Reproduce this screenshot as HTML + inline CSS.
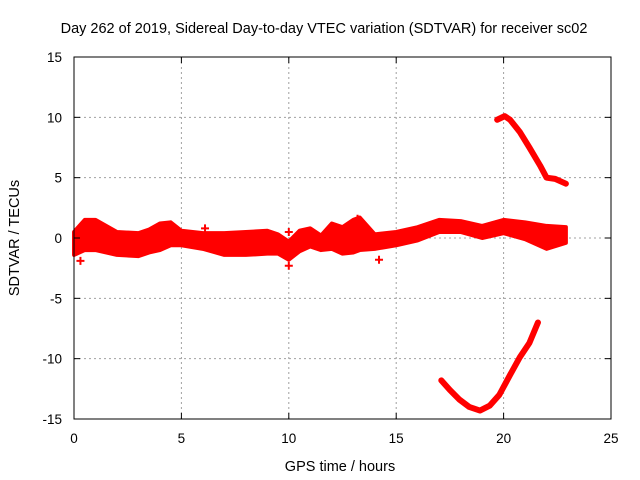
<!DOCTYPE html>
<html><head><meta charset="utf-8"><style>
body{margin:0;background:#fff}
svg{display:block;font-family:"Liberation Sans",sans-serif}
</style></head><body>
<svg id="c" width="640" height="480">
<text x="324" y="33" text-anchor="middle" font-size="14.5">Day 262 of 2019, Sidereal Day-to-day VTEC variation (SDTVAR) for receiver sc02</text>
<text x="340" y="471" text-anchor="middle" font-size="14.5">GPS time / hours</text>
<text x="19" y="238" text-anchor="middle" font-size="14.5" transform="rotate(-90 19 238)">SDTVAR / TECUs</text>
<g id="grid"></g><g id="marks"></g><g id="axes"></g>
</svg>
<script>
const xTicks=[0,5,10,15,20,25];
const yTicks=[-15,-10,-5,0,5,10,15];
const bandHours=[0,0.5,1,2,3,3.5,4,4.5,5,6,7,8,9,9.5,10,10.5,11,11.5,12,12.5,13,13.3,14,15,16,17,18,19,20,21,22,22.9];
const bandUpper=[0.5,1.5,1.5,0.5,0.4,0.7,1.2,1.3,0.6,0.4,0.4,0.5,0.6,0.3,-0.3,0.6,0.8,0.2,1.2,0.9,1.5,1.7,0.3,0.5,0.9,1.5,1.4,1.0,1.5,1.3,1.0,0.9];
const bandLower=[-1.4,-1,-1,-1.4,-1.5,-1.2,-1,-0.6,-0.6,-0.9,-1.4,-1.4,-1.3,-1.3,-1.8,-1.1,-0.7,-1,-0.9,-1.3,-1.2,-1.0,-0.9,-0.6,-0.2,0.5,0.5,0,0.4,-0.1,-0.9,-0.4];
const upperHours=[19.7,20.05,20.3,20.75,21.2,21.7,22.0,22.4,22.9];
const upperVals=[9.8,10.1,9.8,8.8,7.5,6.0,5.0,4.9,4.5];
const lowerHours=[17.1,17.5,17.95,18.4,18.9,19.35,19.8,20.3,20.75,21.2,21.6];
const lowerVals=[-11.8,-12.6,-13.4,-14.0,-14.3,-13.9,-13.0,-11.35,-9.9,-8.7,-7.0];
const outHours=[0.3,0.3,10,10,14.2,6.1,13.2];
const outVals=[-1.9,0.2,0.5,-2.3,-1.8,0.8,1.6];
const X0=74,X1=611,Y0=419,Y1=57;
const sx=h=>X0+(h-0)/25*(X1-X0);
const sy=v=>Y0-(v+15)/30*(Y0-Y1);
const NS="http://www.w3.org/2000/svg";
function mk(t,p,parent){const e=document.createElementNS(NS,t);for(const k in p)e.setAttribute(k,p[k]);document.getElementById(parent).appendChild(e);return e;}
xTicks.forEach(t=>{
 const x=sx(t);
 if(t>0&&t<25){const g=mk('line',{x1:x,x2:x,y1:Y1,y2:Y0,stroke:'#a0a0a0','stroke-dasharray':'2,3'},'grid');
 
 }
 mk('line',{x1:x,x2:x,y1:Y0,y2:Y0-6,stroke:'#000'},'axes');
 mk('line',{x1:x,x2:x,y1:Y1,y2:Y1+6,stroke:'#000'},'axes');
 const l=mk('text',{x:x,y:Y0+24,'text-anchor':'middle','font-size':13.5},'axes');l.textContent=t;
 
 
});
yTicks.forEach(t=>{
 const y=sy(t);
 if(t>-15&&t<15){const g=mk('line',{x1:X0,x2:X1,y1:y,y2:y,stroke:'#a0a0a0','stroke-dasharray':'2,3'},'grid');
 
 }
 mk('line',{x1:X0,x2:X0+6,y1:y,y2:y,stroke:'#000'},'axes');
 mk('line',{x1:X1,x2:X1-6,y1:y,y2:y,stroke:'#000'},'axes');
 const l=mk('text',{x:X0-12,y:y+5,'text-anchor':'end','font-size':13.5},'axes');l.textContent=t;
 
 
});
const fr=mk('rect',{x:X0,y:Y1,width:X1-X0,height:Y0-Y1,fill:'none',stroke:'#000'},'axes');


let pts=bandHours.map((h,i)=>sx(h)+','+sy(bandUpper[i]));
pts=pts.concat(bandHours.map((h,i)=>sx(h)+','+sy(bandLower[i])).reverse());
const band=mk('polygon',{points:pts.join(' '),fill:'#f00',stroke:'#f00','stroke-width':4,'stroke-linejoin':'round'},'marks');


function curve(hs,vs,name){
 const p=mk('polyline',{points:hs.map((h,i)=>sx(h)+','+sy(vs[i])).join(' '),fill:'none',stroke:'#f00','stroke-width':6,'stroke-linejoin':'round','stroke-linecap':'round'},'marks');
 
 
}
curve(upperHours,upperVals,'upper-arc-series');
curve(lowerHours,lowerVals,'lower-arc-series');
function plus(h,v){
 const x=sx(h),y=sy(v);
 const p=mk('path',{d:`M${x-4},${y}H${x+4}M${x},${y-4}V${y+4}`,stroke:'#f00','stroke-width':2},'marks');
 
 
}
outHours.forEach((h,i)=>plus(h,outVals[i]));
</script>
</body></html>
